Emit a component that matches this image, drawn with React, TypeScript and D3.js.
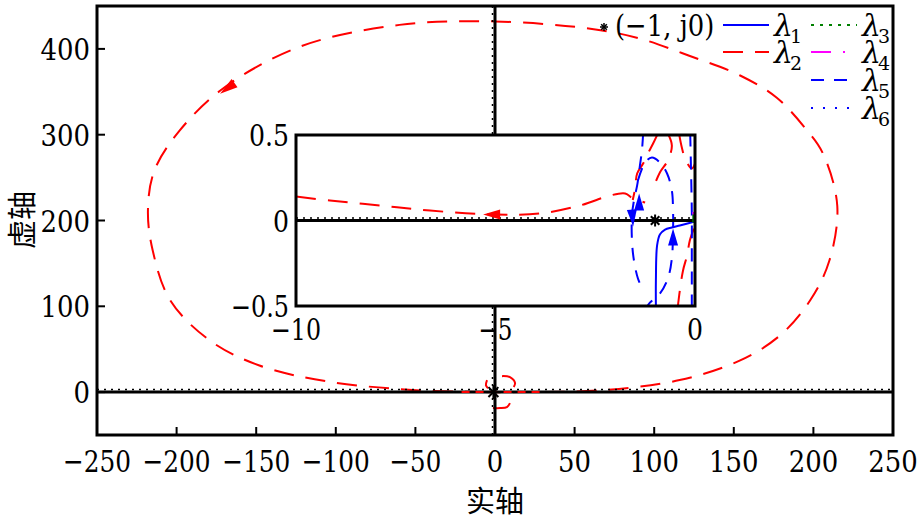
import React from 'react';
import * as d3 from 'd3';

type P = [number, number];

// ---------- tick labels ----------
const mainXTicks = [-250, -200, -150, -100, -50, 0, 50, 100, 150, 200, 250];
const mainYTicks = [0, 100, 200, 300, 400];
const insetXTicks = [-10, -5, 0];
const insetYTicks = [-0.5, 0, 0.5];

// ---------- main plot: lambda2 big loop ----------
const lambda2Main: P[] = [
  [-9, 0], [16, 0], [66, 2], [116, 14], [154, 37], [179, 66], [198, 107], [210, 153],
  [215, 217], [206, 278], [196, 305], [177, 343], [154, 369], [122, 392], [91, 412],
  [62, 423], [0, 432], [-60, 428], [-122, 403], [-170, 355], [-198, 305], [-214, 258],
  [-218, 212], [-215, 165], [-204, 107], [-179, 60], [-148, 31], [-104, 12], [-47, 2], [-9, 0],
];
const lambda2MainLoops: P[][] = [
  [[-5, 14], [-5.7, 8], [-4.4, 4.6]],
  [[4.4, 18.6], [9.4, 17.4], [12.6, 10.5], [11.3, 4.6]],
  [[-1.3, -18.6], [3.1, -18.6], [7.5, -17.4], [9.4, -12.8]],
];
const lambda2MainAxisPart: P[] = [[-21, 0], [28, 0]];
const mainArrows = [
  { tip: [-172.7, 347.7] as P, from: [-163.3, 360.5] as P, color: '#ff0000' },
];

// ---------- inset (zoom on the (-1, j0) region) ----------
const lambda2Inset: P[][] = [
  [[-10, 0.14], [-9.15, 0.117], [-7.89, 0.088], [-6.64, 0.058], [-5.01, 0.035], [-3.88, 0.041],
   [-2.88, 0.088], [-2.13, 0.146], [-1.75, 0.158], [-1.55, 0.128], [-1.25, 0.105]],
  [[-0.93, 0.509], [-1.05, 0.45], [-1.18, 0.392], [-1.3, 0.333], [-1.45, 0.275], [-1.5, 0.187], [-1.56, 0.12]],
  [[-0.68, 0.509], [-0.58, 0.439], [-0.68, 0.351], [-0.88, 0.281], [-1.05, 0.187]],
  [[-0.4, 0.509], [-0.33, 0.427], [-0.23, 0.351], [-0.08, 0.304], [0, 0.333]],
  [[-0.03, -0.047], [-0.13, -0.117], [-0.2, -0.205], [-0.3, -0.292], [-0.38, -0.409], [-0.43, -0.503]],
];
const lambda5Inset: P[][] = [
  [[-1.3, 0.509], [-1.33, 0.409], [-1.38, 0.322], [-1.45, 0.205], [-1.53, 0.117], [-1.58, 0.029],
   [-1.58, -0.117], [-1.53, -0.234], [-1.43, -0.339], [-1.3, -0.409]],
  [[-1.43, 0.234], [-1.25, 0.339], [-1.08, 0.368], [-0.88, 0.339], [-0.7, 0.275], [-0.58, 0.175],
   [-0.55, 0.058], [-0.55, -0.058], [-0.58, -0.222], [-0.68, -0.339], [-0.88, -0.427], [-1.13, -0.48], [-1.2, -0.503]],
  [[-0.12, 0.509], [-0.1, 0.3], [-0.08, 0.05], [-0.08, -0.2], [-0.08, -0.503]],
];
const lambda1Inset: P[][] = [
  [[-0.98, -0.503], [-0.98, -0.351], [-0.95, -0.146], [-0.88, -0.082], [-0.75, -0.053],
   [-0.58, -0.041], [-0.38, -0.029], [0, -0.006]],
];
const lambda3Inset: P[][] = [[[-0.03, 0.041], [-0.03, -0.012]]];
const lambda4Inset: P[][] = [[[-0.03, 0.05], [-0.03, 0.035]]];
const insetArrows = [
  { tip: [-5.31, 0.035] as P, from: [-4.89, 0.035] as P, color: '#ff0000' },
  { tip: [-1.55, -0.035] as P, from: [-1.58, 0.058] as P, color: '#0000ff' },
  { tip: [-1.4, 0.158] as P, from: [-1.4, 0.058] as P, color: '#0000ff' },
  { tip: [-0.55, -0.047] as P, from: [-0.55, -0.135] as P, color: '#0000ff' },
];
const criticalPoint: P = [-1, 0];

// ---------- legend ----------
const legendTitle = '(\u22121, j0)';
const legendNames = ['1', '2', '3', '4', '5', '6'];
const legendColors = ['#0000ff', '#ff0000', '#008000', '#ff00ff', '#0000ff', '#0000ff'];
const legendDashes = ['', '20 12', '3 6', '20 12 2 12', '13 10', '2 10'];

const W = 919;
const H = 521;
const SERIF = "'DejaVu Serif', serif";
const CJK = "'Noto Sans CJK SC', sans-serif";

// Times-like advance widths (em) used to condense DejaVu Serif to Times proportions
const TIMES_W: Record<string, number> = {
  '0': 0.5, '1': 0.5, '2': 0.5, '3': 0.5, '4': 0.5, '5': 0.5, '6': 0.5, '7': 0.5, '8': 0.5, '9': 0.5,
  '\u2212': 0.564, '.': 0.25, ',': 0.25, ' ': 0.25, '(': 0.333, ')': 0.333, j: 0.278,
};
const timesWidth = (s: string, size: number) =>
  s.split('').reduce((a, c) => a + (TIMES_W[c] ?? 0.5), 0) * size;

function T({ x, y, size, anchor = 'start', children }: { x: number; y: number; size: number; anchor?: string; children: string }) {
  return (
    <text x={x} y={y} textAnchor={anchor} fontFamily={SERIF} fontSize={size * 0.93}
      textLength={timesWidth(children, size)} lengthAdjust="spacingAndGlyphs">
      {children}
    </text>
  );
}

function Arrow({ tip, from, color, xs, ys, len = 17, hw = 5 }: any) {
  const tx = xs(tip[0]), ty = ys(tip[1]);
  const fx = xs(from[0]), fy = ys(from[1]);
  const a = Math.atan2(ty - fy, tx - fx);
  const bx = tx - len * Math.cos(a), by = ty - len * Math.sin(a);
  const px = -Math.sin(a) * hw, py = Math.cos(a) * hw;
  return <polygon points={`${tx},${ty} ${bx + px},${by + py} ${bx - px},${by - py}`} fill={color} />;
}

function Star({ cx, cy, r = 6, w = 2 }: { cx: number; cy: number; r?: number; w?: number }) {
  const segs = [0, 45, 90, 135].map((deg) => {
    const a = (deg * Math.PI) / 180;
    return <line key={deg} x1={cx - r * Math.cos(a)} y1={cy - r * Math.sin(a)} x2={cx + r * Math.cos(a)} y2={cy + r * Math.sin(a)} stroke="#000" strokeWidth={w} />;
  });
  return <g>{segs}</g>;
}

const fmt = (t: number) => (t < 0 ? '\u2212' + Math.abs(t) : String(t));

export default function App() {
  const x = d3.scaleLinear().domain([-250, 250]).range([97, 893]);
  const y = d3.scaleLinear().domain([-50, 450]).range([435, 6]);
  const xi = d3.scaleLinear().domain([-10, 0]).range([296, 695]);
  const yi = d3.scaleLinear().domain([-0.5, 0.5]).range([306, 135]);

  const lineMain = d3.line<P>().x((d) => x(d[0])).y((d) => y(d[1])).curve(d3.curveCatmullRom);
  const lineIn = d3.line<P>().x((d) => xi(d[0])).y((d) => yi(d[1])).curve(d3.curveCatmullRom);

  const [x0, x1] = x.domain();
  const [y0, y1] = y.domain();

  return (
    <svg width={W} height={H} style={{ position: 'absolute', left: 0, top: 0, background: '#fff' }}>
      <defs>
        <clipPath id="mainClip"><rect x={97} y={6} width={796} height={429} /></clipPath>
        <clipPath id="insetClip"><rect x={296} y={135} width={399} height={171} /></clipPath>
      </defs>
      <rect width={W} height={H} fill="#fff" />

      {/* main plot content */}
      <g clipPath="url(#mainClip)">
        <path d={lineMain(lambda2Main) || ''} fill="none" stroke="#ff0000" strokeWidth={2} strokeDasharray="20 12" />
        {lambda2MainLoops.map((s, i) => (
          <path key={i} d={lineMain(s) || ''} fill="none" stroke="#ff0000" strokeWidth={2} strokeDasharray="20 12" />
        ))}
        <line x1={x(x0)} x2={x(x1)} y1={y(0)} y2={y(0)} stroke="#000" strokeWidth={3} />
        <line x1={x(x0)} x2={x(x1)} y1={y(0) - 2.5} y2={y(0) - 2.5} stroke="#000" strokeWidth={1.5} strokeDasharray="2 5" />
        <line x1={x(0)} x2={x(0)} y1={y(y0)} y2={y(y1)} stroke="#000" strokeWidth={3} />
        <line x1={x(0) - 2.5} x2={x(0) - 2.5} y1={y(y0)} y2={y(y1)} stroke="#000" strokeWidth={1.5} strokeDasharray="2 5" />
        <path d={lineMain(lambda2MainAxisPart) || ''} fill="none" stroke="#ff0000" strokeWidth={2} strokeDasharray="8 6" />
        {mainArrows.map((a, i) => <Arrow key={i} {...a} xs={x} ys={y} len={18} hw={5} />)}
        <Star cx={x(criticalPoint[0])} cy={y(criticalPoint[1])} r={7} />
      </g>
      {/* main ticks */}
      {mainXTicks.map((t) => (
        <g key={'xt' + t}>
          <line x1={x(t)} x2={x(t)} y1={435} y2={427} stroke="#000" strokeWidth={2} />
          <T x={x(t)} y={472} size={33} anchor="middle">{fmt(t)}</T>
        </g>
      ))}
      {mainYTicks.map((t) => (
        <g key={'yt' + t}>
          <line x1={97} x2={105} y1={y(t)} y2={y(t)} stroke="#000" strokeWidth={2} />
          <T x={90} y={y(t) + 11} size={33} anchor="end">{fmt(t)}</T>
        </g>
      ))}
      <rect x={97} y={6} width={796} height={429} fill="none" stroke="#000" strokeWidth={3} />

      {/* axis titles */}
      <text x={495} y={512} textAnchor="middle" fontFamily={CJK} fontSize={29}>实轴</text>
      <text transform={`translate(33,${220}) rotate(-90)`} textAnchor="middle" fontFamily={CJK} fontSize={29}>虚轴</text>

      {/* inset */}
      <rect x={296} y={135} width={399} height={171} fill="#fff" />
      <g clipPath="url(#insetClip)">
        {lambda2Inset.map((s, i) => (
          <path key={'r' + i} d={lineIn(s) || ''} fill="none" stroke="#ff0000" strokeWidth={2} strokeDasharray="20 12" />
        ))}
        {lambda5Inset.map((s, i) => (
          <path key={'b5' + i} d={lineIn(s) || ''} fill="none" stroke="#0000ff" strokeWidth={2} strokeDasharray="13 10" />
        ))}
        {lambda1Inset.map((s, i) => (
          <path key={'b1' + i} d={lineIn(s) || ''} fill="none" stroke="#0000ff" strokeWidth={2} />
        ))}
        <line x1={xi(-10)} x2={xi(0)} y1={yi(0)} y2={yi(0)} stroke="#000" strokeWidth={3} />
        <line x1={xi(-10)} x2={xi(0)} y1={yi(0) - 2.5} y2={yi(0) - 2.5} stroke="#000" strokeWidth={1.5} strokeDasharray="2 5" />
        {lambda3Inset.map((s, i) => (
          <path key={'g' + i} d={lineIn(s) || ''} fill="none" stroke="#008000" strokeWidth={3} />
        ))}
        {lambda4Inset.map((s, i) => (
          <path key={'m' + i} d={lineIn(s) || ''} fill="none" stroke="#ff00ff" strokeWidth={3} />
        ))}
        {insetArrows.map((a, i) => <Arrow key={i} {...a} xs={xi} ys={yi} len={17} hw={5} />)}
        <Star cx={xi(criticalPoint[0])} cy={yi(criticalPoint[1])} r={6} />
      </g>
      <rect x={296} y={135} width={399} height={171} fill="none" stroke="#000" strokeWidth={3} />
      {insetXTicks.map((t) => (
        <T key={'ixt' + t} x={xi(t)} y={340} size={32} anchor="middle">{fmt(t)}</T>
      ))}
      {insetYTicks.map((t) => (
        <T key={'iyt' + t} x={289} y={yi(t) + 11} size={32} anchor="end">{fmt(t)}</T>
      ))}

      {/* legend */}
      <g>
        <Star cx={604} cy={27} r={4} w={1.5} />
        <T x={615} y={36} size={33}>{legendTitle}</T>
        {legendNames.map((n, i) => {
          const isLeft = i === 0 || i === 1;
          const lx = isLeft ? 723 : 811;
          const row = isLeft ? i : i - 2;
          const ly = [25, 52, 80, 108][row];
          return (
            <g key={n}>
              <line x1={lx} x2={lx + 46} y1={ly} y2={ly} stroke={legendColors[i]} strokeWidth={2} strokeDasharray={legendDashes[i] || undefined} />
              <text x={lx + 51} y={ly + 11} fontFamily={SERIF} fontSize={30}>
                <tspan fontStyle="italic">λ</tspan>
                <tspan dx={-3} dy={7} fontSize={19}>{n}</tspan>
              </text>
            </g>
          );
        })}
      </g>
    </svg>
  );
}
